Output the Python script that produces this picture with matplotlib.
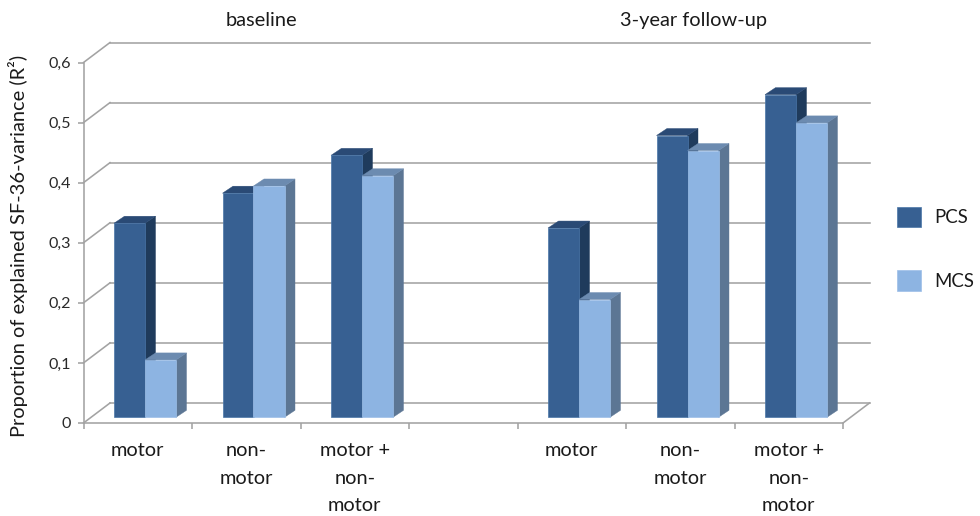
import matplotlib
matplotlib.use("Agg")
import matplotlib.pyplot as plt
from matplotlib.patches import Polygon, Patch

categories = ["motor", "non-\nmotor", "motor +\nnon-\nmotor", "", "motor", "non-\nmotor", "motor +\nnon-\nmotor"]
pcs = [0.323, 0.373, 0.436, None, 0.315, 0.469, 0.537]
mcs = [0.0955, 0.385, 0.402, None, 0.196, 0.444, 0.490]
y_ticks = [0, 0.1, 0.2, 0.3, 0.4, 0.5, 0.6]
y_labels = ["0", "0,1", "0,2", "0,3", "0,4", "0,5", "0,6"]
group_titles = ["baseline", "3-year follow-up"]

W, H = 980, 516
plt.rcParams["font.family"] = ["Lato", "DejaVu Sans"]
FS = 14.4
LFS = 13.4
TXT = "#1a1a1a"
GRID = "#A3A3A3"
fig = plt.figure(figsize=(W / 100, H / 100), dpi=100, facecolor="white")
# front plane of the 3-D box
L, R, T, B = 83.5, 843.0, 62.5, 423.0
ax = fig.add_axes([L / W, 1 - B / H, (R - L) / W, (B - T) / H])
ax.set_xlim(0, len(categories))
ax.set_ylim(0, 0.6)
ax.patch.set_alpha(0)

px_x = len(categories) / (R - L)
px_y = 0.6 / (B - T)
DX, DY = 26.5 * px_x, 20 * px_y          # wall depth
BW = 31 * px_x                           # bar width
BDX, BDY = 10.5 * px_x, 7 * px_y         # bar depth
FX, FY = 8 * px_x, 5.7 * px_y            # bar inset from front plane
LEFT = 22.5 * px_x                       # bar offset in the category

# walls
lw = 1.15
n = len(categories)
for v in y_ticks:
    ax.plot([0, DX], [v, v + DY], color=GRID, lw=lw, clip_on=False, zorder=1)
    ax.plot([DX, n + DX], [v + DY, v + DY], color=GRID, lw=lw, clip_on=False, zorder=1)
ax.plot([n, n + DX], [0, DY], color=GRID, lw=lw, clip_on=False, zorder=1)


def bar3d(x0, v, front, top, side, edge, z):
    x, b = x0 + FX, FY
    x1 = x + BW
    kw = dict(closed=True, clip_on=False, zorder=z, joinstyle="miter")
    ax.add_patch(Polygon([(x1, b), (x1 + BDX, b + BDY), (x1 + BDX, b + v + BDY), (x1, b + v)],
                         fc=side, ec=side, lw=0.3, **kw))
    ax.add_patch(Polygon([(x, b + v), (x1, b + v), (x1 + BDX, b + v + BDY), (x + BDX, b + v + BDY)],
                         fc=top, ec=top, lw=0.3, **kw))
    ax.add_patch(Polygon([(x, b), (x1, b), (x1, b + v), (x, b + v)],
                         fc=front, ec=edge, lw=0.5, **kw))


for i in range(n):
    if pcs[i] is None:
        continue
    base = i + LEFT
    bar3d(base, pcs[i], "#376092", "#2A4A75", "#1F3B5C", "#4A76A8", 3 + i)
    bar3d(base + BW, mcs[i], "#8DB4E2", "#6C8BB0", "#5C7694", "#9DBFE8", 3 + i + 0.5)

# axes furniture
for s in ("top", "right"):
    ax.spines[s].set_visible(False)
for s in ("left", "bottom"):
    ax.spines[s].set_color(GRID)
    ax.spines[s].set_linewidth(lw)
ax.set_yticks(y_ticks, y_labels)
ax.set_xticks(range(n + 1))
ax.set_xticklabels([])
ax.set_xticks([i + 0.5 for i in range(n)], categories, minor=True)
ax.tick_params(axis="x", which="major", length=4.5, width=lw, color=GRID)
ax.tick_params(axis="x", which="minor", length=0, labelsize=FS, labelcolor=TXT, pad=14)
ax.tick_params(axis="y", length=4, width=lw, color=GRID, labelsize=11.6, labelcolor="#2a2a2a", pad=5)
for lab in ax.get_xticklabels(minor=True):
    lab.set_linespacing(1.72)
    lab.set_verticalalignment("top")
ax.set_ylabel("Proportion of explained SF-36-variance (R²)", fontsize=FS, color=TXT, labelpad=0, va="center")
ax.yaxis.set_label_coords((18.5 - L) / (R - L), (B - 246) / (B - T))

# group titles
ax.text(1.636, 0.6 + 42 * px_y, group_titles[0], ha="center", va="center", fontsize=FS, color=TXT)
ax.text(5.62, 0.6 + 42 * px_y, group_titles[1], ha="center", va="center", fontsize=FS, color=TXT)

# legend
handles = [Patch(fc="#376092", ec="#4A76A8", lw=0.5), Patch(fc="#8DB4E2", ec="#9DBFE8", lw=0.5)]
fig.legend(handles, ["PCS", "MCS"], loc="upper left", bbox_to_anchor=(897 / W, 1 - 207 / H),
           frameon=False, fontsize=LFS, handlelength=1.29, handleheight=1.29, handletextpad=0.7,
           labelspacing=2.32, borderpad=0, borderaxespad=0, labelcolor=TXT)

fig.savefig("out.png", dpi=100, facecolor="white")
